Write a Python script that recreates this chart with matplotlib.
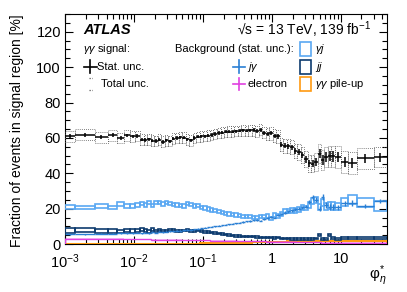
import numpy as np
import matplotlib
matplotlib.use("Agg")
import matplotlib.pyplot as plt
from matplotlib.patches import Rectangle

plt.rcParams["font.family"] = ["Liberation Sans", "DejaVu Sans"]
plt.rcParams["mathtext.fontset"] = "custom"
plt.rcParams["mathtext.rm"] = "Liberation Sans"
plt.rcParams["mathtext.it"] = "Liberation Sans:italic"
plt.rcParams["mathtext.bf"] = "Liberation Sans:bold"

# bin edges in phi*_eta
EDGES = [0.001, 0.0014, 0.0027, 0.0042, 0.0057, 0.0072, 0.0088, 0.0104, 0.0121, 0.0138, 0.0155,
         0.0174, 0.0196, 0.022, 0.0247, 0.0278, 0.0312, 0.035, 0.0394, 0.0443, 0.0498,
         0.056, 0.063, 0.0708, 0.0795, 0.0894, 0.1, 0.113, 0.127, 0.142, 0.16,
         0.18, 0.202, 0.227, 0.255, 0.287, 0.322, 0.362, 0.407, 0.457, 0.514,
         0.578, 0.65, 0.73, 0.82, 0.92, 1.03, 1.16, 1.3, 1.46, 1.64,
         1.84, 2.07, 2.33, 2.62, 2.94, 3.3, 3.7, 4.15, 4.65, 5.2,
         5.8, 6.5, 7.3, 8.2, 10.2, 12.7, 17, 30, 47]

SIGNAL = [60.8, 61.8, 60.4, 61.4, 59.9, 61.4, 60.8, 61.0, 59.0, 58.8,
          59.2, 58.5, 58.2, 59.0, 57.8, 58.6, 58.2, 59.5, 59.9, 60.4,
          60.2, 59.2, 58.6, 60.0, 60.6, 60.8, 61.0, 61.2, 61.6, 62.2,
          62.8, 63.0, 63.4, 63.6, 63.6, 63.8, 64.0, 64.2, 64.0, 64.2,
          64.4, 63.8, 64.6, 63.0, 62.3, 62.6, 61.2, 60.8, 56.2, 55.6,
          55.2, 54.8, 52.6, 52.0, 50.5, 48.0, 45.7, 45.5, 46.5, 51.0,
          47.6, 49.1, 49.7, 49.5, 49.0, 46.6, 46.0, 48.5, 49.0]
SIGNAL_STAT = [1.2, 1.1, 1.1, 1.1, 1.1, 1.0, 1.0, 1.0, 1.0, 1.0,
               1.0, 1.0, 1.0, 1.0, 1.0, 1.0, 0.9, 0.9, 0.9, 0.9,
               0.9, 0.9, 0.9, 0.9, 0.9, 0.9, 0.9, 0.9, 0.9, 0.9,
               0.9, 0.9, 0.9, 0.9, 0.9, 0.9, 0.9, 0.9, 0.9, 1.0,
               1.0, 1.0, 1.0, 1.1, 1.1, 1.1, 1.2, 1.2, 1.3, 1.3,
               1.4, 1.4, 1.5, 1.6, 1.7, 1.9, 2.0, 2.2, 2.4, 2.6,
               2.7, 2.8, 2.8, 3.0, 2.8, 2.8, 2.8, 2.4, 2.4]
SIGNAL_TOT = [3.0, 3.0, 3.0, 3.0, 3.0, 3.0, 3.0, 3.0, 3.0, 3.0,
              3.0, 3.0, 3.0, 3.0, 3.0, 3.0, 3.0, 3.0, 3.0, 3.0,
              3.0, 3.0, 3.0, 3.0, 3.0, 3.0, 3.0, 3.0, 3.0, 3.0,
              3.0, 3.0, 3.0, 3.0, 3.0, 3.0, 3.0, 3.0, 3.0, 3.1,
              3.1, 3.2, 3.2, 3.3, 3.4, 3.5, 3.6, 3.7, 3.8, 3.9,
              4.0, 4.1, 4.2, 4.3, 4.4, 4.6, 4.8, 5.0, 5.2, 5.4,
              5.6, 5.8, 6.0, 6.2, 6.2, 6.2, 6.2, 5.8, 5.6]

GJ = [21.1, 20.8, 21.5, 20.8, 22.7, 21.5, 21.6, 22.1, 23.0, 22.2,
      23.3, 21.8, 23.3, 23.6, 22.7, 23.6, 23.0, 22.4, 22.1, 21.8,
      21.5, 22.8, 22.4, 21.5, 21.8, 20.8, 20.4, 19.8, 19.3, 18.9,
      18.3, 17.8, 17.2, 17.0, 16.8, 16.4, 16.0, 15.8, 15.6, 15.4,
      15.2, 15.0, 15.6, 15.5, 15.8, 14.6, 16.4, 15.8, 17.0, 18.9,
      18.6, 19.0, 19.0, 19.4, 20.8, 20.4, 22.1, 24.5, 25.0, 20.8,
      23.4, 21.5, 22.0, 21.6, 21.4, 24.0, 25.0, 23.4, 21.5]
GJ_ERR = [1.1, 1.0, 1.0, 1.0, 1.0, 1.0, 1.0, 1.0, 1.0, 1.0,
          0.9, 0.9, 0.9, 0.9, 0.9, 0.9, 0.9, 0.9, 0.9, 0.9,
          0.9, 0.9, 0.9, 0.9, 0.9, 0.9, 0.9, 0.9, 0.9, 0.9,
          0.9, 0.9, 0.9, 0.9, 0.9, 0.9, 0.9, 0.9, 0.9, 0.9,
          0.9, 0.9, 0.9, 1.0, 1.0, 1.0, 1.0, 1.0, 1.1, 1.1,
          1.1, 1.2, 1.2, 1.3, 1.3, 1.4, 1.5, 1.6, 1.7, 1.8,
          1.9, 2.0, 2.0, 2.1, 2.0, 2.2, 2.6, 2.4, 2.8]

JG = [5.5, 5.5, 5.8, 5.8, 6.0, 6.0, 6.1, 6.3, 6.0, 6.4,
      6.2, 6.6, 6.5, 7.0, 6.8, 7.1, 7.2, 7.3, 7.5, 7.6,
      7.8, 8.0, 8.2, 8.3, 8.6, 8.9, 9.2, 9.5, 9.8, 10.1,
      10.3, 10.7, 11.0, 11.3, 11.6, 11.9, 12.2, 12.5, 12.8, 13.1,
      13.4, 13.7, 13.3, 14.2, 14.6, 15.5, 15.0, 16.4, 16.8, 17.8,
      18.5, 19.0, 19.6, 20.1, 20.8, 21.2, 24.0, 26.4, 25.0, 20.0,
      26.7, 22.1, 20.8, 21.0, 20.8, 23.0, 23.2, 21.5, 24.5]
JG_ERR = [0.4, 0.4, 0.3, 0.3, 0.3, 0.3, 0.3, 0.3, 0.3, 0.3,
          0.3, 0.3, 0.3, 0.3, 0.3, 0.3, 0.3, 0.3, 0.3, 0.3,
          0.3, 0.3, 0.3, 0.3, 0.3, 0.3, 0.3, 0.3, 0.3, 0.3,
          0.3, 0.3, 0.3, 0.3, 0.3, 0.3, 0.3, 0.3, 0.4, 0.4,
          0.4, 0.4, 0.4, 0.5, 0.5, 0.5, 0.5, 0.6, 0.6, 0.7,
          0.7, 0.8, 0.8, 0.9, 1.0, 1.0, 1.2, 1.4, 1.4, 1.5,
          1.6, 1.6, 1.6, 1.7, 1.5, 1.5, 1.5, 1.2, 1.2]

JJ = [7.6, 8.0, 7.6, 7.4, 7.2, 7.8, 7.4, 7.9, 8.2, 7.6,
      7.3, 8.3, 7.5, 7.9, 7.4, 7.6, 8.0, 7.8, 7.6, 7.5,
      7.7, 7.9, 7.5, 7.6, 7.7, 7.3, 7.0, 6.8, 6.5, 6.3,
      6.0, 5.6, 5.4, 5.1, 4.9, 4.7, 4.6, 4.4, 4.3, 4.2,
      4.2, 4.0, 3.9, 3.8, 3.8, 3.6, 3.4, 3.7, 3.3, 3.2,
      3.1, 3.0, 3.0, 2.9, 2.9, 2.8, 3.0, 2.9, 3.2, 5.0,
      3.0, 2.8, 5.0, 3.4, 3.0, 3.6, 3.4, 3.6, 3.5]
JJ_ERR = [1.4, 1.3, 1.2, 1.1, 1.0, 1.0, 0.9, 0.9, 0.8, 0.8,
          0.8, 0.7, 0.7, 0.7, 0.6, 0.6, 0.6, 0.6, 0.5, 0.5,
          0.5, 0.5, 0.5, 0.5, 0.5, 0.5, 0.5, 0.5, 0.4, 0.4,
          0.4, 0.4, 0.4, 0.4, 0.4, 0.4, 0.4, 0.4, 0.4, 0.4,
          0.4, 0.4, 0.4, 0.4, 0.4, 0.4, 0.4, 0.4, 0.4, 0.4,
          0.4, 0.4, 0.4, 0.4, 0.4, 0.4, 0.4, 0.4, 0.5, 0.6,
          0.5, 0.5, 0.6, 0.5, 0.5, 0.6, 0.6, 0.6, 0.6]

ELECTRON = [3.0, 3.0, 2.9, 2.9, 2.9, 2.8, 2.8, 2.8, 2.7, 2.7,
            2.7, 2.6, 2.6, 2.6, 2.5, 2.5, 2.5, 2.4, 2.4, 2.4,
            2.3, 2.3, 2.3, 2.2, 2.2, 2.2, 2.1, 2.1, 2.0, 2.0,
            2.0, 1.9, 1.9, 1.8, 1.8, 1.8, 1.7, 1.7, 1.6, 1.6,
            1.6, 1.5, 1.5, 1.5, 1.4, 1.4, 1.4, 1.3, 1.3, 1.3,
            1.2, 1.2, 1.2, 1.1, 1.1, 1.1, 1.0, 1.0, 1.0, 1.0,
            0.9, 0.9, 0.9, 0.9, 0.8, 0.8, 0.8, 0.8, 0.7]

PILEUP = [0.2, 0.2, 0.2, 0.2, 0.2, 0.2, 0.2, 0.2, 0.2, 0.2,
          0.2, 0.2, 0.2, 0.2, 0.2, 0.2, 0.3, 0.3, 0.3, 0.3,
          0.3, 0.3, 0.3, 0.3, 0.3, 0.4, 0.4, 0.4, 0.4, 0.5,
          0.5, 0.5, 0.6, 0.6, 0.7, 0.7, 0.8, 0.8, 0.9, 0.9,
          1.0, 1.0, 1.1, 1.1, 1.2, 1.2, 1.3, 1.3, 1.4, 1.4,
          1.5, 1.5, 1.5, 1.6, 1.6, 1.6, 1.7, 1.7, 1.7, 1.7,
          1.8, 1.8, 1.8, 1.8, 1.8, 1.9, 1.9, 1.9, 1.9]

XTICKS = [1e-3, 1e-2, 1e-1, 1, 10]
XTICKLABELS = ["$10^{-3}$", "$10^{-2}$", "$10^{-1}$", "1", "10"]

C_SIG = "black"
C_GJ = "#5aa8f2"
C_JG = "#2a7fd4"
C_JJ = "#0d3b6e"
C_ELE = "#e040e0"
C_PU = "#ff9a10"
C_TOT = "0.35"

edges = np.array(EDGES)
lo, hi = edges[:-1], edges[1:]
widths = hi - lo
xc = np.sqrt(lo * hi)

fig = plt.figure(figsize=(4.07, 2.92), dpi=100)
ax = fig.add_axes([0.160, 0.164, 0.791, 0.788])

sig = np.array(SIGNAL)
tot = np.array(SIGNAL_TOT)

# backgrounds
ax.stairs(PILEUP, edges, color=C_PU, lw=1.5, zorder=3)
ele = np.array(ELECTRON)
ax.stairs(ele + 0.3, edges, baseline=ele - 0.3, fill=True, color=C_ELE, alpha=0.35, lw=0, zorder=3)
ax.stairs(ele, edges, color=C_ELE, lw=1.0, zorder=3)

gj, gj_err = np.array(GJ), np.array(GJ_ERR)
ax.bar(lo, 2 * gj_err, bottom=gj - gj_err, width=widths, align="edge",
       fill=False, edgecolor=C_GJ, linewidth=1.2, zorder=4)

jj, jj_err = np.array(JJ), np.array(JJ_ERR)
ax.bar(lo, 2 * jj_err, bottom=jj - jj_err, width=widths, align="edge",
       fill=False, edgecolor=C_JJ, linewidth=1.2, zorder=4)

ax.errorbar(xc, JG, xerr=[xc - lo, hi - xc], yerr=JG_ERR, fmt="none",
            ecolor=C_JG, elinewidth=1.0, capsize=0, zorder=5)

# signal
ax.bar(lo, 2 * tot, bottom=sig - tot, width=widths, align="edge",
       fill=False, edgecolor=C_TOT, linestyle=(0, (1, 1.5)), linewidth=0.6, zorder=5)
ax.errorbar(xc, sig, xerr=[xc - lo, hi - xc], yerr=SIGNAL_STAT, fmt="none",
            ecolor=C_SIG, elinewidth=1.1, capsize=0, zorder=6)

ax.set_xscale("log")
ax.set_xlim(1e-3, 47)
ax.set_ylim(0, 130)
ax.set_xticks(XTICKS)
ax.set_xticklabels(XTICKLABELS)
ax.set_yticks([0, 20, 40, 60, 80, 100, 120])
ax.set_yticks(np.arange(0, 131, 5), minor=True)
ax.tick_params(which="both", direction="in", top=True, right=True, labelsize=10.5)
ax.tick_params(axis="y", pad=3)
ax.tick_params(axis="x", pad=6)
ax.tick_params(which="major", length=6, width=0.8)
ax.tick_params(which="minor", length=3.5, width=0.8)
for s in ax.spines.values():
    s.set_linewidth(0.8)

fig.text(17 / 407, 1 - 14 / 292, "Fraction of events in signal region [%]",
         rotation=90, ha="center", va="top", fontsize=10)
fig.text(386 / 407, 1 - 263 / 292, r"$\mathrm{φ}_{\eta}^{*}$", ha="right", va="top", fontsize=11)

# header and legend
tr = ax.transAxes
ax.text(0.056, 0.930, "ATLAS", transform=tr, fontsize=10.5, fontweight="bold",
        style="italic", va="center")
ax.text(0.534, 0.930, "√s = 13 TeV, 139 fb$^{-1}$", transform=tr,
        fontsize=10, va="center")

fs = 8
ax.text(0.056, 0.848, r"$\gamma\gamma$ signal:", transform=tr, fontsize=fs, va="center")
ax.text(0.342, 0.848, "Background (stat. unc.):", transform=tr, fontsize=fs, va="center")


def cross(x, y, color, dx=0.02, dy=0.028):
    ax.plot([x - dx, x + dx], [y, y], color=color, lw=1.2, transform=tr)
    ax.plot([x, x], [y - dy, y + dy], color=color, lw=1.2, transform=tr)


def box(x, y, color, w=0.036, h=0.062):
    ax.add_patch(Rectangle((x - w / 2, y - h / 2), w, h, transform=tr,
                           fill=False, edgecolor=color, lw=1.2))


cross(0.078, 0.770, C_SIG)
ax.text(0.1, 0.770, "Stat. unc.", transform=tr, fontsize=fs, va="center")
for yy in (0.722, 0.670):
    ax.plot([0.074, 0.082], [yy, yy], color=C_TOT, lw=0.9, ls=(0, (1, 1)), transform=tr)
ax.text(0.112, 0.696, "Total unc.", transform=tr, fontsize=fs, va="center")

cross(0.540, 0.770, C_JG)
ax.text(0.566, 0.770, r"$j\gamma$", transform=tr, fontsize=fs, va="center")
cross(0.540, 0.696, C_ELE)
ax.text(0.566, 0.696, "electron", transform=tr, fontsize=fs, va="center")

box(0.747, 0.848, C_GJ)
ax.text(0.776, 0.848, r"$\gamma j$", transform=tr, fontsize=fs, va="center")
box(0.747, 0.770, C_JJ)
ax.text(0.776, 0.770, r"$jj$", transform=tr, fontsize=fs, va="center")
box(0.747, 0.696, C_PU)
ax.text(0.776, 0.696, r"$\gamma\gamma$ pile-up", transform=tr, fontsize=fs, va="center")

fig.savefig("out.png", dpi=100)
